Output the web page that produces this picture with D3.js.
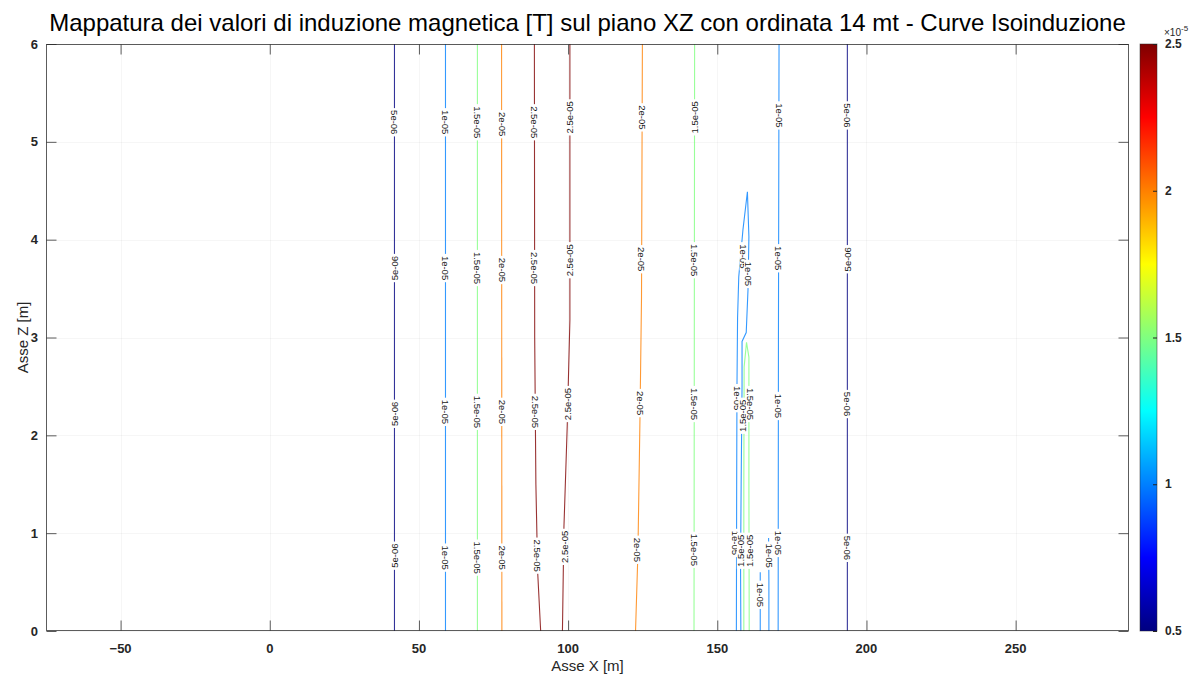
<!DOCTYPE html>
<html>
<head>
<meta charset="utf-8">
<script src="https://cdn.jsdelivr.net/npm/d3@7"></script>
<style>
  body { margin: 0; background: #fff; }
  svg { display: block; font-family: "Liberation Sans", Arial, Helvetica, sans-serif; }
</style>
</head>
<body>
<svg id="chart" width="1202" height="682"></svg>
<script>
// ---------------- DATA ----------------
const titleText = "Mappatura dei valori di induzione magnetica [T] sul piano XZ con ordinata 14 mt - Curve Isoinduzione";
const xLabelText = "Asse X [m]";
const zLabelText = "Asse Z [m]";
const xDomain = [-75, 288];
const zDomain = [0, 6];
const xTicks = [-50, 0, 50, 100, 150, 200, 250];
const zTicks = [0, 1, 2, 3, 4, 5, 6];
const cbDomain = [0.5, 2.5];          // colour bar, units of 1e-5 T
const cbTicks = [0.5, 1, 1.5, 2, 2.5];
const cbTickLabels = ["0.5", "1", "1.5", "2", "2.5"];
const levels = [0.5, 1, 1.5, 2, 2.5]; // contour levels, units of 1e-5 T
const levelText = ["5e-06", "1e-05", "1.5e-05", "2e-05", "2.5e-05"];

// contour paths: level index and [x, z] points
const contourLevel = [0, 1, 2, 3, 4, 4, 3, 2, 1, 0, 1, 2, 1, 1];
const contourPoints = [
  [[41.8, 0], [41.8, 6]],
  [[58.9, 0], [58.9, 6]],
  [[69.6, 0], [69.6, 6]],
  [[77.8, 0], [77.7, 6]],
  [[90.8, 0], [89.8, 0.6], [89.2, 1.5], [88.8, 3], [88.7, 6]],
  [[98.1, 0], [98.6, 1.06], [99.7, 2.09], [100.6, 3.18], [100.6, 6]],
  [[122.6, 0], [123.4, 0.8], [124.1, 2.2], [124.6, 3.4], [124.9, 6]],
  [[142.2, 0], [142.3, 3], [142.4, 6]],
  [[170.4, 0], [170.5, 3], [170.7, 6]],
  [[193.6, 0], [193.6, 6]],
  [[156.4, 0], [156.5, 1.5], [156.6, 2.5], [156.8, 3.2], [157.2, 3.62], [158.6, 4.1], [160.1, 4.49],
   [160.6, 4.03], [160.3, 3.49], [159.7, 3.05], [158.3, 2.96], [158.3, 2.5], [158.0, 1.5], [157.8, 0.66], [157.9, 0]],
  [[158.9, 0], [158.9, 1.5], [159.0, 2.7], [159.8, 2.95], [160.6, 2.8], [160.6, 1.5], [160.7, 0]],
  [[167.3, 0], [167.3, 0.5], [167.2, 0.95]],
  [[164.4, 0], [164.4, 0.3], [164.4, 0.6]]
];

// contour labels: [x, z, level index, angle]
const labelX = [
  41.8, 58.9, 69.6, 77.8, 88.7, 100.6, 124.9, 142.4, 170.7, 193.6,
  41.8, 58.9, 69.6, 77.8, 88.8, 100.5, 124.7, 142.4, 170.6, 193.6, 158.8, 160.3,
  41.8, 58.9, 69.6, 77.8, 89.0, 99.9, 124.3, 142.3, 170.5, 193.6, 156.6, 158.4, 161.0,
  41.8, 58.9, 69.6, 77.8, 89.6, 98.7, 123.3, 142.2, 170.4, 193.6, 155.9, 157.9, 160.8, 167.3, 164.4
];
const labelZ = [
  5.20, 5.20, 5.20, 5.18, 5.20, 5.25, 5.25, 5.25, 5.27, 5.27,
  3.71, 3.71, 3.71, 3.69, 3.71, 3.79, 3.80, 3.79, 3.81, 3.80, 3.83, 3.65,
  2.22, 2.24, 2.24, 2.24, 2.24, 2.32, 2.33, 2.32, 2.30, 2.32, 2.38, 2.20, 2.32,
  0.77, 0.75, 0.75, 0.75, 0.77, 0.86, 0.83, 0.83, 0.90, 0.85, 0.90, 0.82, 0.82, 0.77, 0.37
];
const labelLevel = [
  0, 1, 2, 3, 4, 4, 3, 2, 1, 0,
  0, 1, 2, 3, 4, 4, 3, 2, 1, 0, 1, 1,
  0, 1, 2, 3, 4, 4, 3, 2, 1, 0, 1, 2, 2,
  0, 1, 2, 3, 4, 4, 3, 2, 1, 0, 1, 2, 2, 1, 1
];
const labelAngle = [
  90, 90, 90, 90, 90, -90, 90, -90, 90, 90,
  -90, 90, 90, 90, 90, -90, 90, 90, 90, -90, 90, 90,
  -90, 90, 90, 90, 90, -90, 90, 90, 90, 90, 90, -90, 90,
  -90, 90, 90, 90, 90, -90, 90, 90, 90, 90, 90, -90, -90, 90, 90
];

// ---------------- LAYOUT ----------------
const plot = { left: 46, right: 1129, top: 44, bottom: 631 };
const cb = { left: 1140, right: 1157 };
const axisColor = "#262626";

const svg = d3.select("#chart");
const x = d3.scaleLinear().domain(xDomain).range([plot.left, plot.right]);
const z = d3.scaleLinear().domain(zDomain).range([plot.bottom, plot.top]);
const cbScale = d3.scaleLinear().domain(cbDomain).range([plot.bottom, plot.top]);

function jet(t) {
  const c = v => Math.max(0, Math.min(1, v));
  const r = c(1.5 - Math.abs(4 * t - 3));
  const g = c(1.5 - Math.abs(4 * t - 2));
  const b = c(1.5 - Math.abs(4 * t - 1));
  return d3.rgb(r * 255, g * 255, b * 255).formatHex();
}
const tOf = d3.scaleLinear().domain(cbDomain).range([0, 1]).clamp(true);
const levelColor = i => jet(tOf(levels[i]));

// plot background
svg.append("rect").attr("x", plot.left).attr("y", plot.top)
  .attr("width", plot.right - plot.left).attr("height", plot.bottom - plot.top)
  .attr("fill", "#fff");

// faint grid
const grid = svg.append("g").attr("stroke", "#000").attr("stroke-opacity", 0.035).attr("stroke-width", 1);
grid.selectAll("line.gx").data(xTicks).join("line")
  .attr("x1", d => Math.round(x(d)) + 0.5).attr("x2", d => Math.round(x(d)) + 0.5)
  .attr("y1", plot.top).attr("y2", plot.bottom);
grid.selectAll("line.gz").data(zTicks).join("line")
  .attr("y1", d => Math.round(z(d)) + 0.5).attr("y2", d => Math.round(z(d)) + 0.5)
  .attr("x1", plot.left).attr("x2", plot.right);

// contour lines
const lineGen = d3.line().x(d => x(d[0])).y(d => z(d[1]));
const contours = svg.append("g").attr("fill", "none").attr("stroke-width", 1.1);
contours.selectAll("path").data(contourPoints).join("path")
  .attr("d", d => lineGen(d))
  .attr("stroke", (d, i) => levelColor(contourLevel[i]))
  .attr("stroke-opacity", 0.8);

// contour labels (inline, with gap)
const labelsG = svg.append("g");
labelX.forEach((lx, i) => {
  const g = labelsG.append("g")
    .attr("transform", `translate(${x(lx)},${z(labelZ[i])}) rotate(${labelAngle[i]})`);
  const bg = g.append("rect").attr("fill", "#fff");
  const t = g.append("text")
    .attr("text-anchor", "middle").attr("dy", "0.35em")
    .attr("font-size", 9.5).attr("fill", "#1a1a1a")
    .text(levelText[labelLevel[i]]);
  const len = t.node().getComputedTextLength();
  bg.attr("x", -len / 2 - 2).attr("y", -4).attr("width", len + 4).attr("height", 8);
});

// axes box
svg.append("rect").attr("x", plot.left + 0.5).attr("y", plot.top + 0.5)
  .attr("width", plot.right - plot.left - 1).attr("height", plot.bottom - plot.top - 1)
  .attr("fill", "none").attr("stroke", axisColor).attr("stroke-opacity", 0.75).attr("stroke-width", 1);

// axes via d3 axis generators (ticks pointing inward)
const tickLen = 10;
function inwardAxis(axisGen, transform) {
  const g = svg.append("g").attr("transform", transform).call(axisGen);
  g.select(".domain").remove();
  g.selectAll(".tick line").attr("stroke", axisColor).attr("stroke-opacity", 0.75);
  g.selectAll(".tick text").remove();
  return g;
}
inwardAxis(d3.axisTop(x).tickValues(xTicks).tickSize(tickLen), `translate(0,${plot.bottom - 0.5})`);
inwardAxis(d3.axisBottom(x).tickValues(xTicks).tickSize(tickLen), `translate(0,${plot.top + 0.5})`);
inwardAxis(d3.axisRight(z).tickValues(zTicks).tickSize(tickLen), `translate(${plot.left + 0.5},0)`);
inwardAxis(d3.axisLeft(z).tickValues(zTicks).tickSize(tickLen), `translate(${plot.right - 0.5},0)`);

// tick labels
svg.append("g").selectAll("text").data(xTicks).join("text")
  .attr("x", d => x(d)).attr("y", plot.bottom + 22)
  .attr("text-anchor", "middle").attr("font-size", 13).attr("font-weight", "bold")
  .attr("fill", axisColor).text(d => d3.format("d")(d));
svg.append("g").selectAll("text").data(zTicks).join("text")
  .attr("x", plot.left - 8).attr("y", d => z(d)).attr("dy", "0.35em")
  .attr("text-anchor", "end").attr("font-size", 13).attr("font-weight", "bold")
  .attr("fill", axisColor).text(d => d);

// axis labels
svg.append("text").attr("x", (plot.left + plot.right) / 2).attr("y", 671)
  .attr("text-anchor", "middle").attr("font-size", 15).attr("fill", axisColor).text(xLabelText);
svg.append("text")
  .attr("transform", `translate(23,${(plot.top + plot.bottom) / 2}) rotate(-90)`)
  .attr("text-anchor", "middle").attr("dy", "0.35em").attr("font-size", 15).attr("fill", axisColor)
  .text(zLabelText);

// title
svg.append("text").attr("x", (plot.left + plot.right) / 2).attr("y", 31)
  .attr("text-anchor", "middle").attr("font-size", 24).attr("fill", "#000").text(titleText);

// colour bar
const defs = svg.append("defs");
const grad = defs.append("linearGradient").attr("id", "jetGrad")
  .attr("x1", 0).attr("y1", 1).attr("x2", 0).attr("y2", 0);
d3.range(0, 65).forEach(k => {
  grad.append("stop").attr("offset", k / 64).attr("stop-color", jet(k / 64));
});
svg.append("rect").attr("x", cb.left).attr("y", cbScale(cbDomain[1]))
  .attr("width", cb.right - cb.left).attr("height", cbScale(cbDomain[0]) - cbScale(cbDomain[1]))
  .attr("fill", "url(#jetGrad)").attr("stroke", axisColor).attr("stroke-opacity", 0.6).attr("stroke-width", 0.8);
const gcb = svg.append("g").attr("transform", `translate(${cb.right},0)`)
  .call(d3.axisLeft(cbScale).tickValues(cbTicks).tickSize(4));
gcb.select(".domain").remove();
gcb.selectAll(".tick line").attr("stroke", "#222");
gcb.selectAll(".tick text").remove();
svg.append("g").selectAll("text").data(cbTicks).join("text")
  .attr("x", cb.right + 8).attr("y", d => cbScale(d)).attr("dy", "0.35em")
  .attr("font-size", 12).attr("font-weight", "bold").attr("fill", axisColor)
  .text((d, i) => cbTickLabels[i]);
const exp = svg.append("text").attr("x", cb.right + 7).attr("y", 36)
  .attr("font-size", 10).attr("fill", axisColor);
exp.append("tspan").text("\u00d710");
exp.append("tspan").attr("dy", -5).attr("font-size", 8).text("-5");
</script>
</body>
</html>
